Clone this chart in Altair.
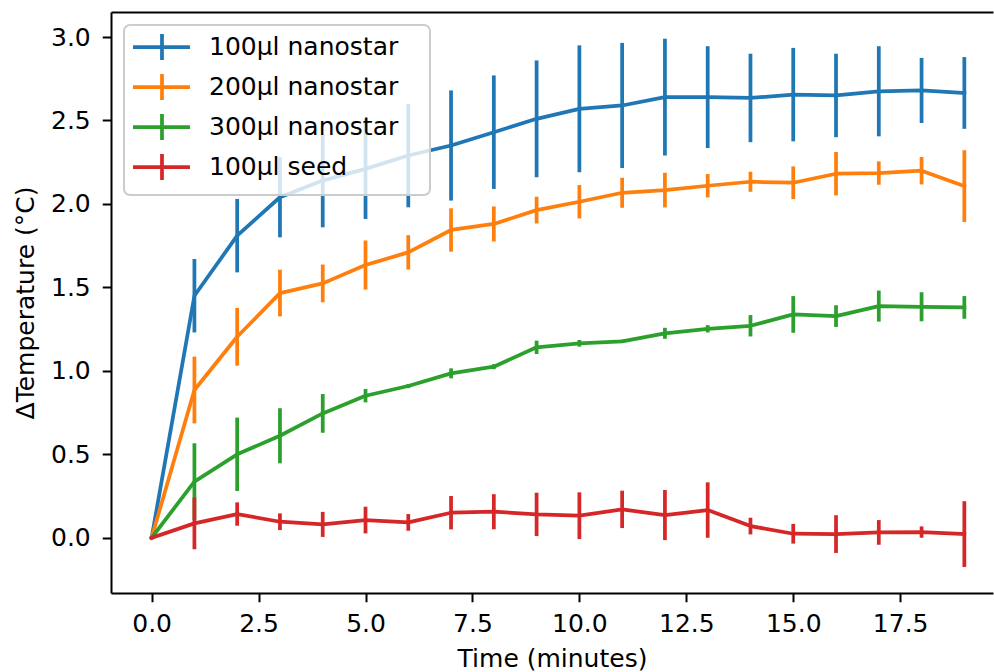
import altair as alt
import pandas as pd

# ---- data ----
minutes = list(range(20))
series_names = ["100µl nanostar", "200µl nanostar", "300µl nanostar", "100µl seed"]
series_colors = ["#1f77b4", "#ff7f0e", "#2ca02c", "#d62728"]

nano100 = [0, 1.45, 1.81, 2.04, 2.14, 2.21, 2.29, 2.35, 2.43, 2.51,
           2.57, 2.59, 2.64, 2.64, 2.635, 2.655, 2.65, 2.675, 2.68, 2.665]
nano100_err = [0, 0.22, 0.22, 0.24, 0.28, 0.30, 0.31, 0.33, 0.34, 0.35,
               0.38, 0.375, 0.35, 0.305, 0.265, 0.28, 0.25, 0.27, 0.195, 0.215]

nano200 = [0, 0.885, 1.204, 1.466, 1.524, 1.634, 1.71, 1.844, 1.88, 1.963,
           2.013, 2.067, 2.083, 2.109, 2.133, 2.127, 2.181, 2.185, 2.199, 2.107]
nano200_err = [0, 0.2, 0.173, 0.14, 0.113, 0.147, 0.103, 0.13, 0.105, 0.08,
               0.10, 0.09, 0.104, 0.07, 0.06, 0.098, 0.13, 0.07, 0.082, 0.215]

nano300 = [0, 0.336, 0.50, 0.611, 0.745, 0.851, 0.909, 0.985, 1.025, 1.141,
           1.165, 1.177, 1.225, 1.252, 1.27, 1.338, 1.328, 1.388, 1.384, 1.380]
nano300_err = [0, 0.23, 0.22, 0.165, 0.116, 0.04, 0.012, 0.03, 0.015, 0.04,
               0.02, 0.01, 0.033, 0.022, 0.064, 0.11, 0.065, 0.093, 0.087, 0.068]

seed100 = [0, 0.086, 0.142, 0.096, 0.08, 0.106, 0.092, 0.15, 0.156, 0.14,
           0.132, 0.17, 0.136, 0.166, 0.07, 0.024, 0.022, 0.032, 0.034, 0.022]
seed100_err = [0, 0.155, 0.07, 0.05, 0.075, 0.08, 0.05, 0.1, 0.105, 0.13,
               0.14, 0.112, 0.15, 0.166, 0.05, 0.059, 0.113, 0.074, 0.034, 0.197]

x_ticks = [0, 2.5, 5, 7.5, 10, 12.5, 15, 17.5]
y_ticks = [0, 0.5, 1.0, 1.5, 2.0, 2.5, 3.0]

x_title = "Time (minutes)"
y_title = "ΔTemperature (°C)"

# ---- long table ----
rows = []
for name, vals, errs in zip(series_names,
                            [nano100, nano200, nano300, seed100],
                            [nano100_err, nano200_err, nano300_err, seed100_err]):
    for m, v, e in zip(minutes, vals, errs):
        rows.append({"minute": m, "series": name, "value": v,
                     "lo": v - e, "hi": v + e})
df = pd.DataFrame(rows)

FONT = "DejaVu Sans"
FS = 25
LW = 3.75

xscale = alt.Scale(domain=[-0.95, 19.67], nice=False, zero=False)
yscale = alt.Scale(domain=[-0.331, 3.15], nice=False, zero=False)

x_axis_bottom = alt.Axis(values=x_ticks, format=".1f", title=x_title,
                         grid=False, labelPadding=10, titlePadding=10)
x_axis_top = alt.Axis(orient="top", labels=False, ticks=False, grid=False,
                      title="", domain=True)
x_axis_none = alt.Axis(labels=False, ticks=False, domain=False, grid=False,
                       title="")
y_axis = alt.Axis(values=y_ticks, format=".1f", title=y_title, grid=False,
                  labelPadding=12, titlePadding=12)

legend = alt.Legend(
    orient="none", legendX=13, legendY=13,
    title=" ", titleOrient="right", titleFontSize=2, titlePadding=25,
    symbolType="M-1,0H3.385M1.23,-1V1", symbolSize=676,
    symbolStrokeWidth=LW, labelFontSize=FS, labelFont=FONT,
    labelColor="black", labelLimit=500, labelOffset=48,
    padding=7, rowPadding=-2,
    fillColor="rgba(255,255,255,0.8)", strokeColor="#cccccc",
    cornerRadius=6,
)
color = alt.Color("series:N",
                  scale=alt.Scale(domain=series_names, range=series_colors),
                  legend=legend)

layers = []
for i, name in enumerate(series_names):
    base = alt.Chart(df).transform_filter(alt.datum.series == name)
    if i == 0:
        xa_line, xa_rule = x_axis_bottom, x_axis_top
    else:
        xa_line = xa_rule = x_axis_none
    line = base.mark_line(strokeWidth=LW, strokeJoin="round",
                          strokeCap="square").encode(
        x=alt.X("minute:Q", scale=xscale, axis=xa_line),
        y=alt.Y("value:Q", scale=yscale, axis=y_axis),
        color=color,
    )
    rule = base.mark_rule(strokeWidth=LW).encode(
        x=alt.X("minute:Q", scale=xscale, axis=xa_rule),
        y=alt.Y("lo:Q", scale=yscale, axis=y_axis),
        y2="hi:Q",
        color=color,
    )
    layers += [line, rule]

chart = alt.layer(*layers).resolve_axis(x="independent").properties(
    width=882, height=581,
    autosize=alt.AutoSizeParams(type="none"),
    padding={"left": 111, "top": 12, "right": 1, "bottom": 79},
    background="white",
).configure_view(stroke="transparent").configure_axis(
    labelFont=FONT, labelFontSize=FS, labelColor="black",
    titleFont=FONT, titleFontSize=FS, titleColor="black",
    titleFontWeight="normal",
    domainColor="black", domainWidth=2,
    tickColor="black", tickWidth=2, tickSize=8.75,
).configure_legend(strokeWidth=2)

chart.save("out.html", embed_options={"renderer": "svg", "actions": False})
